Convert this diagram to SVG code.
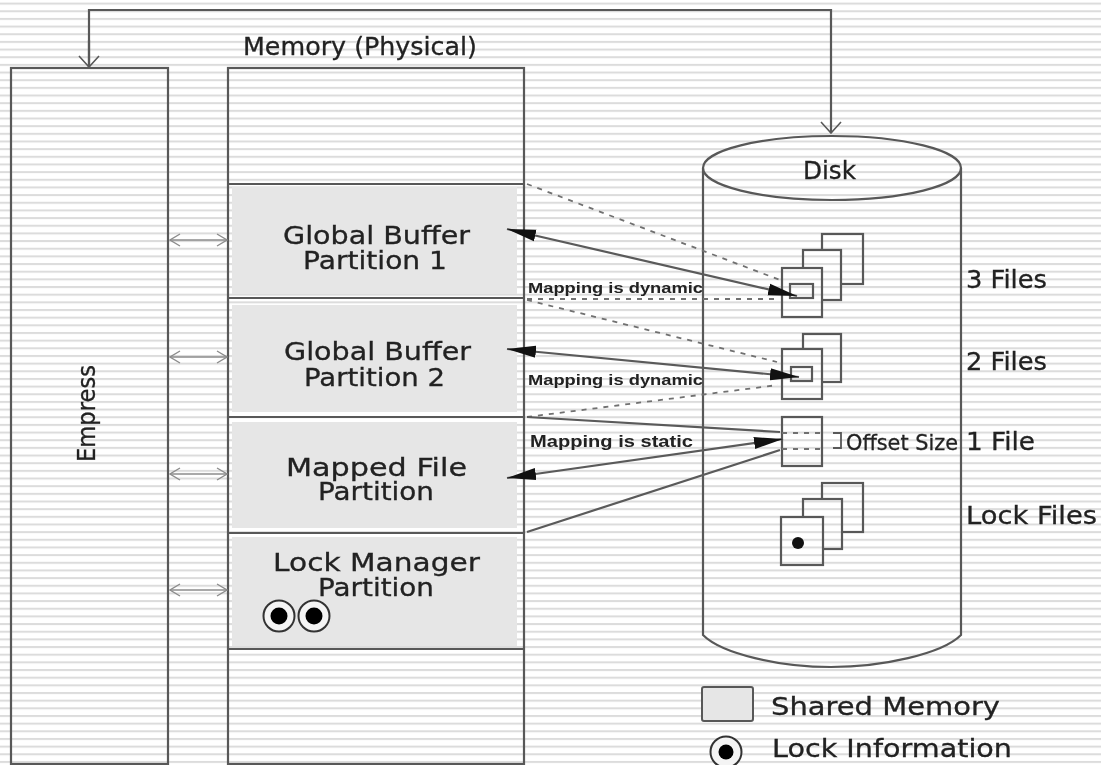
<svg xmlns="http://www.w3.org/2000/svg" width="1101" height="765" viewBox="0 0 1101 765">
<style>
.b{fill:none;stroke:#585858;stroke-width:2.2}
.c{fill:url(#st);stroke:#585858;stroke-width:2.2}
.p{fill:#e6e6e6;stroke:none}
.d{fill:none;stroke:#707070;stroke-width:1.8;stroke-dasharray:5 6}
.s{fill:none;stroke:#5a5a5a;stroke-width:2.2}
.g{fill:none;stroke:#8c8c8c;stroke-width:1.4}
text{font-family:"DejaVu Sans","Liberation Sans",sans-serif;fill:#222;font-size:25px;stroke:#222;stroke-width:.3}
.m{font-size:15px;font-family:"Liberation Sans",Arial,sans-serif;font-weight:700;fill:#222;stroke:none}
</style>
<defs>
<pattern id="st" width="10" height="7.66" patternUnits="userSpaceOnUse" y="2.6"><rect width="10" height="7.66" fill="#fff"/><rect y="0" width="10" height="2" fill="#dcdcdc"/></pattern>
<marker id="ah" markerWidth="30" markerHeight="14" refX="29" refY="7" orient="auto-start-reverse" markerUnits="userSpaceOnUse"><path d="M0 1L29 7L0 13z" fill="#111"/></marker>
<marker id="oa" markerWidth="12" markerHeight="14" refX="11" refY="7" orient="auto-start-reverse" markerUnits="userSpaceOnUse"><path d="M1 1L11 7L1 13" fill="none" stroke="#8c8c8c" stroke-width="1.4"/></marker>
<marker id="ob" markerWidth="14" markerHeight="24" refX="13" refY="12" orient="auto" markerUnits="userSpaceOnUse"><path d="M2 2L13 12L2 22" fill="none" stroke="#585858" stroke-width="1.6"/></marker>
<filter id="soft" x="0" y="0" width="100%" height="100%" color-interpolation-filters="sRGB"><feGaussianBlur stdDeviation="0.55"/></filter>
</defs>
<g filter="url(#soft)">
<rect width="1101" height="765" fill="url(#st)"/>
<g id="empress"><rect class="b" x="11" y="68" width="157" height="696"/><text transform="translate(95 462) rotate(-90)" textLength="97" lengthAdjust="spacingAndGlyphs">Empress</text></g>
<g id="memory"><rect class="b" x="228" y="68" width="296" height="696"/><text x="243" y="55" textLength="234" lengthAdjust="spacingAndGlyphs">Memory (Physical)</text></g>
<g id="partition1"><rect class="p" x="232" y="187" width="285" height="107"/><path class="b" d="M228 184H524M228 298H524"/><text x="283" y="244" textLength="187" lengthAdjust="spacingAndGlyphs">Global Buffer</text><text x="303" y="269" textLength="144" lengthAdjust="spacingAndGlyphs">Partition 1</text></g>
<g id="partition2"><rect class="p" x="232" y="305" width="285" height="107"/><path class="b" d="M228 417H524"/><text x="284" y="360" textLength="187" lengthAdjust="spacingAndGlyphs">Global Buffer</text><text x="304" y="386" textLength="141" lengthAdjust="spacingAndGlyphs">Partition 2</text></g>
<g id="partition3"><rect class="p" x="232" y="422" width="285" height="106"/><path class="b" d="M228 533H524"/><text x="286" y="476" textLength="181" lengthAdjust="spacingAndGlyphs">Mapped File</text><text x="318" y="500" textLength="116" lengthAdjust="spacingAndGlyphs">Partition</text></g>
<g id="partition4"><rect class="p" x="232" y="537" width="285" height="109"/><path class="b" d="M228 649H524"/><text x="273" y="571" textLength="207" lengthAdjust="spacingAndGlyphs">Lock Manager</text><text x="318" y="596" textLength="116" lengthAdjust="spacingAndGlyphs">Partition</text>
<circle cx="279" cy="616" r="15.500" fill="#f4f4f4" stroke="#333" stroke-width="2"/><circle cx="279" cy="616" r="8.500" fill="#000"/><circle cx="314" cy="616" r="15.500" fill="#f4f4f4" stroke="#333" stroke-width="2"/><circle cx="314" cy="616" r="8.500" fill="#000"/></g>
<g id="disk"><path class="b" d="M703 168V635C722 654 780 667 831 667C882 667 942 654 961 635V168"/><ellipse class="b" cx="832" cy="168" rx="129" ry="32"/><text x="803" y="179" textLength="53" lengthAdjust="spacingAndGlyphs">Disk</text></g>
<g id="files3"><rect class="c" x="822" y="234" width="41" height="50"/><rect class="c" x="803" y="250" width="38" height="50"/><rect class="c" x="782" y="268" width="40" height="49"/><rect class="b" x="790" y="284" width="23" height="14"/><text x="966" y="288" textLength="81" lengthAdjust="spacingAndGlyphs">3 Files</text></g>
<g id="files2"><rect class="c" x="803" y="334" width="38" height="48"/><rect class="c" x="782" y="349" width="40" height="50"/><rect class="b" x="791" y="367" width="21" height="14"/><text x="966" y="370" textLength="81" lengthAdjust="spacingAndGlyphs">2 Files</text></g>
<g id="file1"><rect class="b" x="782" y="417" width="40" height="49"/><path class="d" d="M782 433H822M782 449H822"/><path class="b" d="M833 433H841V448H833" style="stroke-width:1.8"/><text x="846" y="450" textLength="112" lengthAdjust="spacingAndGlyphs" style="font-size:22px">Offset Size</text><text x="966" y="450" textLength="69" lengthAdjust="spacingAndGlyphs">1 File</text></g>
<g id="lockfiles"><rect class="c" x="822" y="483" width="41" height="49"/><rect class="c" x="803" y="499" width="39" height="50"/><rect class="c" x="781" y="517" width="42" height="48"/><circle cx="798" cy="543" r="6" fill="#111"/><text x="966" y="524" textLength="131" lengthAdjust="spacingAndGlyphs">Lock Files</text></g>
<g id="legend"><rect x="702" y="687" width="51" height="34" rx="2" fill="#e6e6e6" stroke="#585858" stroke-width="2"/><text x="771" y="715" textLength="229" lengthAdjust="spacingAndGlyphs">Shared Memory</text><circle cx="726" cy="752" r="15.500" fill="#f4f4f4" stroke="#333" stroke-width="2"/><circle cx="726" cy="752" r="7.500" fill="#000"/><text x="772" y="757" textLength="240" lengthAdjust="spacingAndGlyphs">Lock Information</text></g>
<g id="connectors">
<path class="b" d="M89 67V10H831V133" marker-end="url(#ob)"/>
<path class="b" d="M89 40V67" marker-end="url(#ob)"/>
<path class="g" d="M170 240H227" marker-start="url(#oa)" marker-end="url(#oa)"/>
<path class="g" d="M170 357H227" marker-start="url(#oa)" marker-end="url(#oa)"/>
<path class="g" d="M170 474H227" marker-start="url(#oa)" marker-end="url(#oa)"/>
<path class="g" d="M170 590H227" marker-start="url(#oa)" marker-end="url(#oa)"/>
<path class="d" d="M527 184L780 280M527 299H780M527 300L777 362M527 417L778 385"/>
<path class="s" d="M527 417L780 432M527 532L780 450"/>
<path class="s" d="M507 229L797 296" marker-start="url(#ah)" marker-end="url(#ah)"/>
<path class="s" d="M507 349L799 377" marker-start="url(#ah)" marker-end="url(#ah)"/>
<path class="s" d="M507 478L783 439" marker-start="url(#ah)" marker-end="url(#ah)"/>
<text class="m" x="528" y="293" textLength="175" lengthAdjust="spacingAndGlyphs">Mapping is dynamic</text>
<text class="m" x="528" y="385" textLength="175" lengthAdjust="spacingAndGlyphs">Mapping is dynamic</text>
<text class="m" x="530" y="447" textLength="163" lengthAdjust="spacingAndGlyphs" style="font-size:17px">Mapping is static</text>
</g>
</g>
</svg>
